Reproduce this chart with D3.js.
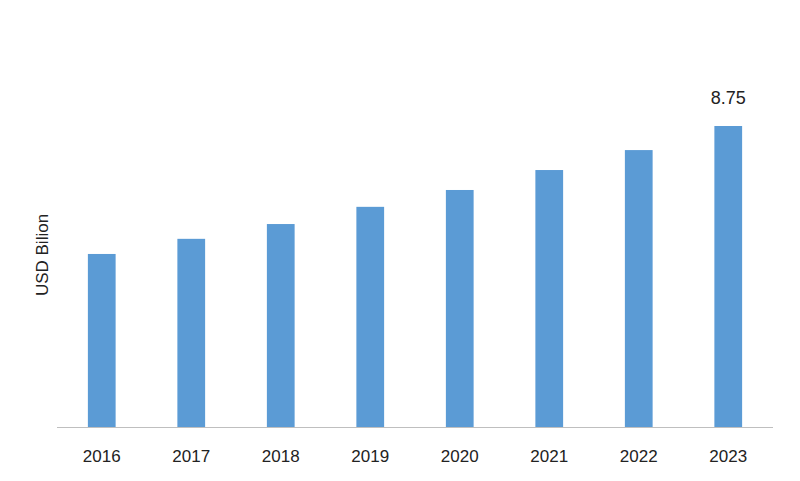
<!DOCTYPE html>
<html><head><meta charset="utf-8">
<script src="https://cdn.jsdelivr.net/npm/d3@7"></script>
<style>body{margin:0;background:#fff}</style>
</head><body>
<svg id="chart" width="800" height="481"></svg>
<script>
var years = ["2016","2017","2018","2019","2020","2021","2022","2023"];
var values = [5.03, 5.47, 5.90, 6.40, 6.89, 7.47, 8.05, 8.75];
var labels = [null, null, null, null, null, null, null, "8.75"];

var svg = d3.select("#chart");
var x = d3.scaleBand().domain(years).range([57, 773]).paddingInner(0.69).paddingOuter(0.345);
var y = d3.scaleLinear().domain([0, 8.75]).range([427, 126]);

svg.selectAll("rect").data(values).enter().append("rect")
  .attr("x", function(d, i) { return x(years[i]); })
  .attr("y", function(d) { return y(d); })
  .attr("width", x.bandwidth())
  .attr("height", function(d) { return y(0) - y(d); })
  .attr("fill", "#5b9bd5");

svg.append("line").attr("x1", 57).attr("x2", 773).attr("y1", 427.5).attr("y2", 427.5)
  .attr("stroke", "#bfbfbf");

svg.selectAll(".yr").data(years).enter().append("text")
  .attr("x", function(d) { return x(d) + x.bandwidth() / 2; })
  .attr("y", 462).attr("text-anchor", "middle")
  .attr("font-family", "Liberation Sans, Arial").attr("font-size", 17).attr("fill", "#222")
  .text(function(d) { return d; });

svg.selectAll(".lbl").data(labels).enter().append("text")
  .filter(function(d) { return d; })
  .attr("x", function(d, i) { return x(years[7]) + x.bandwidth() / 2; })
  .attr("y", y(values[7]) - 22).attr("text-anchor", "middle")
  .attr("font-family", "Liberation Sans, Arial").attr("font-size", 18).attr("fill", "#222")
  .text(function(d) { return d; });

svg.append("text").attr("transform", "translate(48,255) rotate(-90)")
  .attr("text-anchor", "middle")
  .attr("font-family", "Liberation Sans, Arial").attr("font-size", 17).attr("fill", "#222")
  .text("USD Bilion");
</script>
</body></html>
